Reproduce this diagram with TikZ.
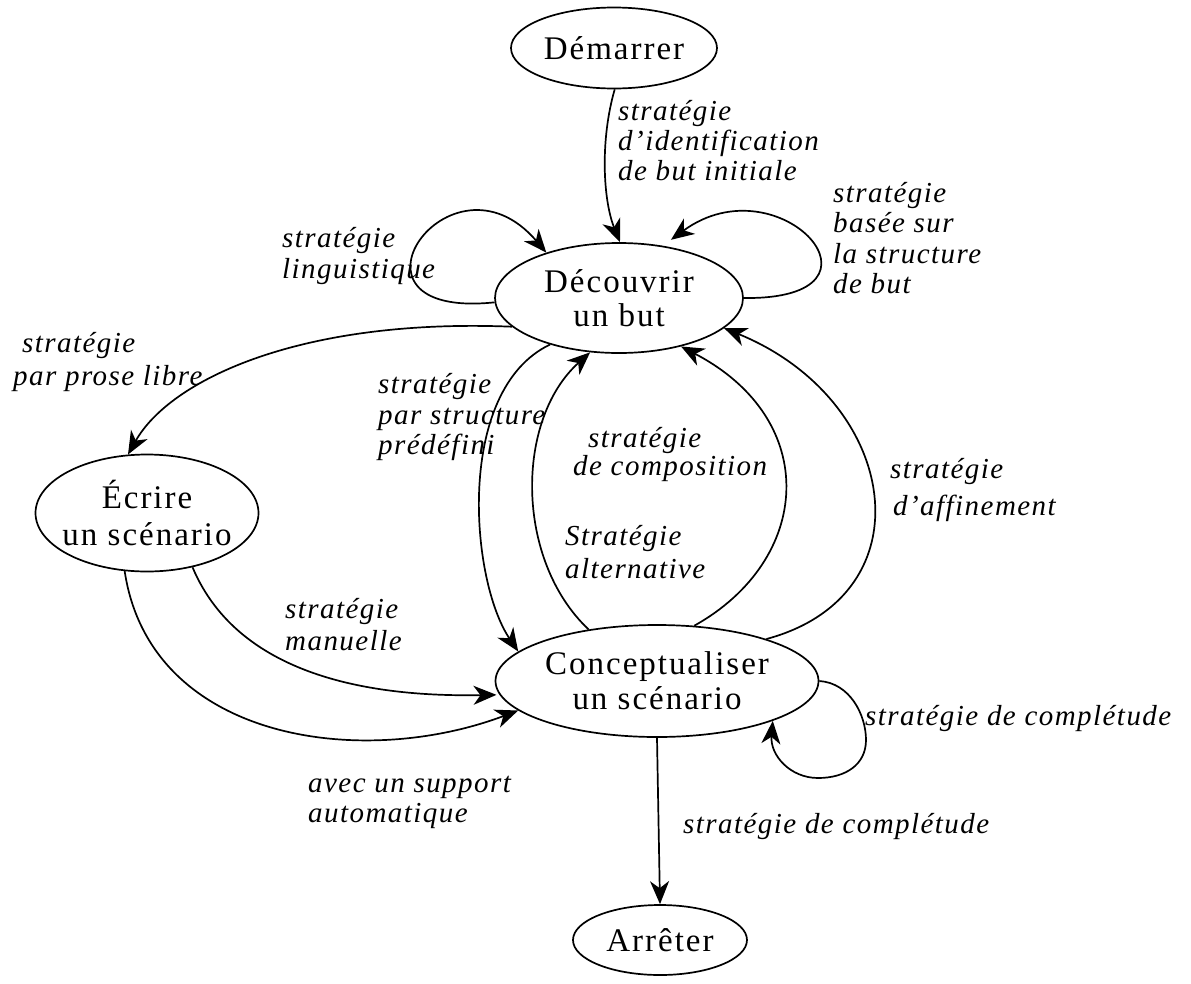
\documentclass[tikz,border=0pt]{standalone}
\usepackage{fontspec}
\setmainfont{Liberation Serif}
\newfontfamily\statefont[LetterSpace=6]{Liberation Serif}
\newfontfamily\stratfont[LetterSpace=5]{Liberation Serif}
\usetikzlibrary{shapes.geometric,arrows.meta}

\tikzset{
  state/.style={draw, ellipse, line width=1.7pt, inner sep=0pt},
  txt/.style={align=center, inner sep=0pt, font=\statefont\fontsize{33}{34}\selectfont},
  % multi-line labels: the base anchor sits on the last line
  strat/.style={anchor=base west, align=left, inner sep=0pt,
                font=\stratfont\itshape\fontsize{29}{30}\selectfont},
  arr/.style={-{Stealth[length=23pt,width=19pt,inset=7pt]}, line width=1.7pt}
}

\begin{document}
\begin{tikzpicture}[x=1pt,y=-1pt]
\useasboundingbox (0,0) rectangle (1191,983);

% states
\node[state, minimum width=206pt, minimum height=81pt,
      label={[txt]center:Démarrer}] (demarrer) at (614,48) {};
\node[state, minimum width=248pt, minimum height=110pt,
      label={[txt]center:Découvrir\\un but}] (decouvrir) at (619,298) {};
\node[state, minimum width=223pt, minimum height=117pt,
      label={[txt]center:Écrire\\[3pt]un scénario}] (ecrire) at (147,513) {};
\node[state, minimum width=323pt, minimum height=112pt,
      label={[txt]center:Conceptualiser\\[1pt]un scénario}] (concept) at (657,681) {};
\node[state, minimum width=174pt, minimum height=70pt,
      label={[txt]center:Arrêter}] (arreter) at (660,940) {};

% transitions
\draw[arr] (demarrer.271) .. controls (600,140) and (603,200) .. (decouvrir.89);
\draw[arr] (decouvrir.182) .. controls (325,320) and (450,140) .. (decouvrir.148);
\draw[arr, shorten >=10pt] (decouvrir.0) .. controls (905,300) and (780,160) .. (decouvrir.50);
\draw[arr] (decouvrir.195) .. controls (300,318) and (170,380) .. (ecrire.108);
\draw[arr] (decouvrir.214) .. controls (455,390) and (470,580) .. (concept.168);
\draw[arr] (concept.143.5) .. controls (515,560) and (515,420) .. (decouvrir.242);
\draw[arr] (concept.56.6) .. controls (812,560) and (822,420) .. (decouvrir.322);
\draw[arr] (concept.21.8) .. controls (930,595) and (900,400) .. (decouvrir.344);
\draw[arr, shorten >=3pt] (ecrire.310) .. controls (240,680) and (380,697) .. (concept.185);
\draw[arr] (ecrire.249) .. controls (150,740) and (360,770) .. (concept.192);
\draw[arr] (concept.0) .. controls (850,683) and (866,715) .. (866,740)
  .. controls (866,765) and (845,778) .. (818,778)
  .. controls (790,778) and (770,755) .. (concept.341.4);
\draw[arr] (concept.270) -- (arreter.90);

% strategy labels (placed by the baseline of their last line)
\node[strat] (l-init) at (618,180) {stratégie\\d’identification\\de but initiale};
\node[strat] (l-struct) at (833,293) {stratégie\\basée sur\\[0.5pt]la structure\\de but};
\node[strat] (l-ling) at (282,278) {stratégie\\[1pt]linguistique};
\node[strat] (l-prose) at (13,385) {\hspace*{9pt}stratégie\\[3pt]par prose libre};
\node[strat] (l-predef) at (378,454) {stratégie\\[1pt]par structure\\prédéfini};
\node[strat] (l-compo) at (573,475) {\hspace*{15pt}stratégie\\[-2pt]de composition};
\node[strat] (l-alt) at (565,578) {Stratégie\\[3pt]alternative};
\node[strat] (l-aff) at (890,515) {stratégie\\[7pt]\hspace*{3pt}d’affinement};
\node[strat] (l-man) at (285,650) {stratégie\\[2pt]manuelle};
\node[strat] (l-auto) at (308,822) {avec un support\\automatique};
\node[strat] (l-comp1) at (865,725) {stratégie de complétude};
\node[strat] (l-comp2) at (683,833) {stratégie de complétude};
\end{tikzpicture}
\end{document}
